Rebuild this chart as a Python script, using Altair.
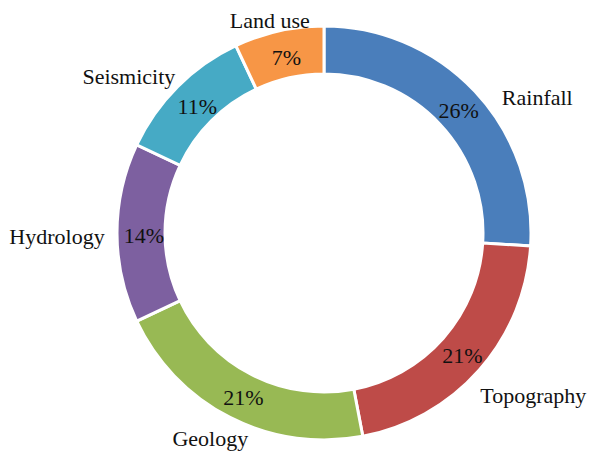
import altair as alt
import pandas as pd

# ---- data ----
categories = ["Rainfall", "Topography", "Geology", "Hydrology", "Seismicity", "Land use"]
values = [26, 21, 21, 14, 11, 7]
colors = ["#4A7EBB", "#BE4B48", "#98B954", "#7D60A0", "#46AAC5", "#F79646"]

df = pd.DataFrame({"category": categories, "value": values})
df["order"] = range(len(df))
df["pct"] = df["value"].astype(str) + "%"
df["mid"] = df["value"].cumsum() - df["value"] / 2

CX, CY = 316, 225  # donut centre inside the plot area
FONT = "Liberation Serif"

theta_scale = alt.Scale(domain=[0, 100])
color_scale = alt.Scale(domain=categories, range=colors)

base = alt.Chart(df)

ring = base.mark_arc(radius=207, innerRadius=159, stroke="white", strokeWidth=3).encode(
    theta=alt.Theta("value:Q", stack=True, scale=theta_scale),
    order=alt.Order("order:Q"),
    color=alt.Color("category:N", scale=color_scale, legend=None),
    x=alt.value(CX),
    y=alt.value(CY),
)

pct = base.mark_text(radius=182, font=FONT, fontSize=22, color="#111", dx=2, dy=3).encode(
    theta=alt.Theta("mid:Q", stack=False, scale=theta_scale),
    text="pct:N",
    x=alt.value(CX),
    y=alt.value(CY),
)

# small placement nudges for the outside labels (styling only)
nudge = {
    "Rainfall": (42, 26),
    "Topography": (33, 8),
    "Geology": (-7, -3),
    "Hydrology": (-32, 4),
    "Seismicity": (-29, 10),
    "Land use": (-3, 17),
}

name_layers = []
for cat in categories:
    ndx, ndy = nudge[cat]
    name_layers.append(
        base.transform_filter(alt.datum.category == cat)
        .mark_text(radius=235, font=FONT, fontSize=22, color="#111", dx=ndx, dy=ndy)
        .encode(
            theta=alt.Theta("mid:Q", stack=False, scale=theta_scale),
            text="category:N",
            x=alt.value(CX),
            y=alt.value(CY),
        )
    )

chart = (
    alt.layer(ring, pct, *name_layers)
    .properties(width=580, height=445, padding=0, autosize=alt.AutoSizeParams(type="none"))
    .configure_view(stroke=None)
)

chart.save("out.html", embed_options={"renderer": "svg", "actions": False})
